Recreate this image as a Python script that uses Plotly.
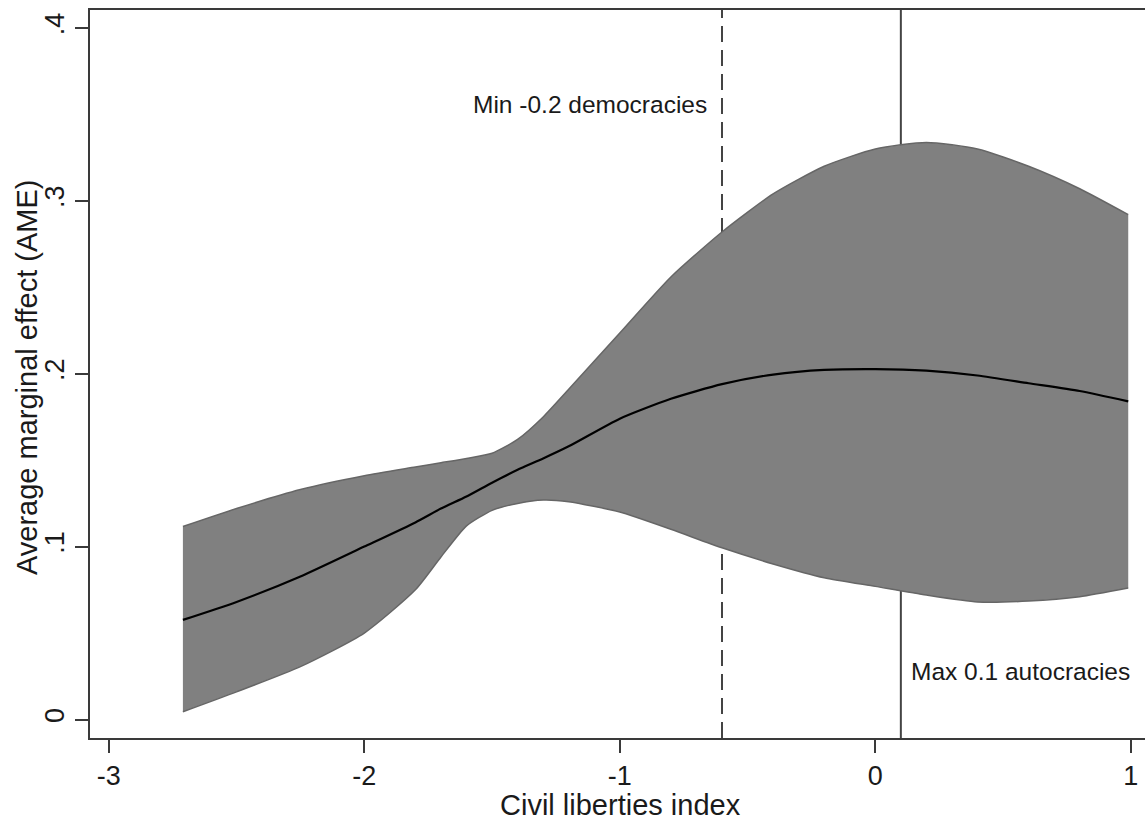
import plotly.graph_objects as go

# Data
x_vals = [-2.71, -2.5, -2.25, -2.0, -1.8, -1.7, -1.6, -1.5, -1.4, -1.3, -1.2,
          -1.0, -0.8, -0.6, -0.4, -0.2, 0.0, 0.2, 0.4, 0.6, 0.8, 0.99]
mean_vals = [0.0576, 0.068, 0.0827, 0.100, 0.114, 0.122, 0.129, 0.137, 0.1445, 0.151, 0.158,
             0.174, 0.1855, 0.194, 0.1995, 0.2022, 0.2027, 0.2018, 0.199, 0.1945, 0.190, 0.184]
upper_vals = [0.1116, 0.122, 0.133, 0.141, 0.146, 0.1485, 0.151, 0.154, 0.162, 0.175, 0.191,
              0.2236, 0.256, 0.282, 0.304, 0.320, 0.330, 0.3338, 0.330, 0.320, 0.307, 0.292]
lower_vals = [0.0045, 0.016, 0.0306, 0.050, 0.075, 0.094, 0.112, 0.121, 0.125, 0.127, 0.126,
              0.120, 0.110, 0.0993, 0.090, 0.082, 0.077, 0.072, 0.068, 0.0685, 0.071, 0.076]

x_ticks = [-3, -2, -1, 0, 1]
x_ticktext = ["-3", "-2", "-1", "0", "1"]
y_ticks = [0, 0.1, 0.2, 0.3, 0.4]
y_ticktext = ["0", ".1", ".2", ".3", ".4"]

x_title = "Civil liberties index"
y_title = "Average marginal effect (AME)"

ref_lines = [-0.6, 0.1]
ref_labels = ["Min -0.2 democracies", "Max 0.1 autocracies"]

FONT = "Liberation Sans, Arial, sans-serif"
TXT = "#1a1a1a"
AX = "#3a3a3a"

fig = go.Figure()
fig.add_trace(go.Scatter(x=x_vals, y=lower_vals, mode="lines",
                         line=dict(color="#666666", width=1.5, shape="spline", smoothing=0.6),
                         showlegend=False, hoverinfo="skip"))
fig.add_trace(go.Scatter(x=x_vals, y=upper_vals, mode="lines", fill="tonexty",
                         fillcolor="#808080",
                         line=dict(color="#666666", width=1.5, shape="spline", smoothing=0.6),
                         showlegend=False, hoverinfo="skip"))
fig.add_trace(go.Scatter(x=x_vals, y=mean_vals, mode="lines",
                         line=dict(color="#000000", width=2.2, shape="spline", smoothing=0.6),
                         showlegend=False))

# reference lines (below the band)
fig.add_shape(type="line", xref="x", yref="paper", x0=ref_lines[0], x1=ref_lines[0], y0=0, y1=1,
              line=dict(color="#444444", width=2, dash="16px,8px"), layer="below")
fig.add_shape(type="line", xref="x", yref="paper", x0=ref_lines[1], x1=ref_lines[1], y0=0, y1=1,
              line=dict(color="#444444", width=2), layer="below")

fig.add_annotation(x=ref_lines[0], y=0.3557, xref="x", yref="y", text=ref_labels[0],
                   showarrow=False, xanchor="right", xshift=-13,
                   font=dict(family=FONT, size=24.5, color=TXT))
fig.add_annotation(x=ref_lines[1], y=0.0275, xref="x", yref="y", text=ref_labels[1],
                   showarrow=False, xanchor="left", xshift=8,
                   font=dict(family=FONT, size=24.5, color=TXT))

# axis titles
fig.add_annotation(x=0.5028, y=-0.0915, xref="paper", yref="paper", text=x_title,
                   showarrow=False, xanchor="center", yanchor="middle", borderpad=0,
                   font=dict(family=FONT, size=29, color=TXT))
fig.add_annotation(x=-0.0597, y=0.4945, xref="paper", yref="paper", text=y_title,
                   showarrow=False, xanchor="center", yanchor="middle", textangle=-90,
                   borderpad=0, font=dict(family=FONT, size=29, color=TXT))

fig.update_layout(
    width=1145, height=820,
    margin=dict(l=90, r=0, t=10, b=82, autoexpand=False),
    paper_bgcolor="white", plot_bgcolor="white",
    font=dict(family=FONT, size=28, color=TXT),
    showlegend=False,
    xaxis=dict(range=[-3.0736, 1.0556], tickvals=x_ticks, ticktext=x_ticktext,
               showgrid=False, zeroline=False, showline=True, linecolor=AX, linewidth=2,
               mirror=True, ticks="outside", ticklen=13, tickwidth=2, tickcolor=AX,
               tickfont=dict(family=FONT, size=27, color=TXT), automargin=False),
    yaxis=dict(range=[-0.0107, 0.4104], tickvals=y_ticks, ticktext=y_ticktext,
               showgrid=False, zeroline=False, showline=True, linecolor=AX, linewidth=2,
               ticks="outside", ticklen=13, tickwidth=2, tickcolor=AX, tickangle=-90,
               tickfont=dict(family=FONT, size=27, color=TXT), automargin=False),
)

fig.write_html("out.html", config={"displayModeBar": False},
               post_script="document.body.style.margin='0';")
